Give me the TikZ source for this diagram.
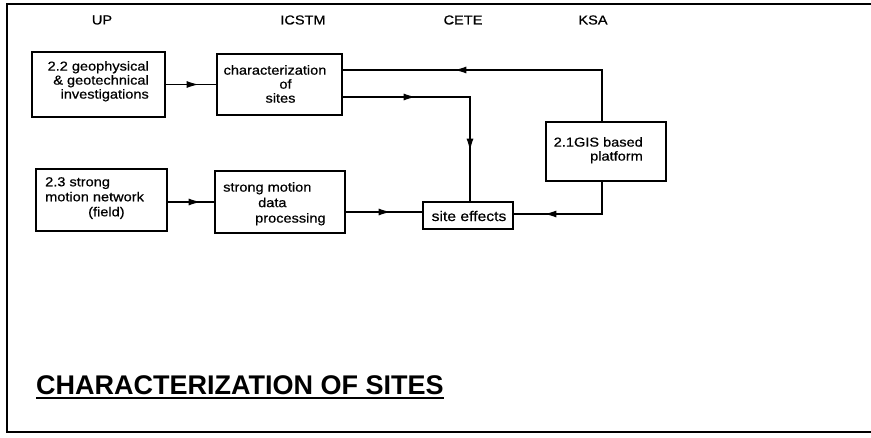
\documentclass[tikz,border=0pt]{standalone}
\usepackage{fontspec}
\setmainfont{Liberation Sans}
\newfontfamily\boxfont[FakeStretch=1.12,FakeBold=0.6]{Liberation Sans}
\usetikzlibrary{arrows.meta,decorations.markings}
\tikzset{
  x=1pt, y=1pt,
  >={Latex[length=12pt,width=7pt]},
  box/.style={draw, line width=1.2pt, inner sep=0pt, rectangle},
  lbl/.style={inner sep=0pt, font=\boxfont\fontsize{13}{14}\selectfont},
  hdr/.style={inner sep=0pt, font=\boxfont\fontsize{13}{14}\selectfont},
  flow/.style={line width=1.1pt},
  tipA/.style={postaction={decorate}, decoration={markings,
     mark=at position #1 with {\arrow{>}}}},
  tipB/.style 2 args={postaction={decorate}, decoration={markings,
     mark=at position #1 with {\arrow{>}},
     mark=at position #2 with {\arrow{>}}}}
}
\begin{document}
\begin{tikzpicture}
\useasboundingbox (0,0) rectangle (871,-437);
% frame
\draw[line width=1.5pt] (871,-4) -- (7,-4) -- (7,-432) -- (871,-432);

% header labels
\node[hdr] (hUP) at (102,-20) {UP};
\node[hdr] (hICSTM) at (303,-20) {ICSTM};
\node[hdr] (hCETE) at (463,-20) {CETE};
\node[hdr] (hKSA) at (593,-20) {KSA};

% boxes
\node[box, minimum width=133pt, minimum height=65pt] (b22) at (98.5,-84.5) {};
\node[box, minimum width=125pt, minimum height=61pt] (char) at (279.5,-84.5) {};
\node[box, minimum width=131pt, minimum height=62pt] (b23) at (101.5,-200) {};
\node[box, minimum width=130pt, minimum height=62pt] (strong) at (280,-202) {};
\node[box, minimum width=90pt, minimum height=27pt] (site) at (468,-215.5) {};
\node[box, minimum width=120pt, minimum height=59pt] (gis) at (606,-151.5) {};

% box texts
\node[lbl, align=right, anchor=north east] (t22) at (149,-61)
  {2.2 geophysical\\ \& geotechnical\\ investigations};
\node[lbl, align=center] (tchar) at (275,-84)
  {characterization\\ \hspace*{21pt}of\\ \hspace*{11pt}sites};
\node[lbl, align=left, anchor=north west, font=\boxfont\fontsize{13}{15}\selectfont] (t23) at (45,-177)
  {2.3 strong\\ motion network\\ \hspace*{43pt}(field)};
\node[lbl, align=left, anchor=north west, font=\boxfont\fontsize{13}{15.5}\selectfont] (tstrong) at (223,-182)
  {strong motion\\ \hspace*{35pt}data\\ \hspace*{32pt}processing};
\node[lbl, font=\boxfont\fontsize{14}{15}\selectfont] (tsite) at (469,-216) {site effects};
\node[lbl, align=right, anchor=north east] (tgis) at (643,-137)
  {2.1GIS based\\ platform};

% connectors
\draw[flow, tipA=33pt] (b22) -- (char);
\draw[flow, tipA=199pt] ([xshift=-4pt]gis.north) |- ([yshift=14.5pt]char.east);
\draw[flow, tipB={73pt}{181pt}] ([yshift=-12.5pt]char.east) -| ([xshift=2pt]site.north);
\draw[flow, tipA=33pt] (strong.west -| b23.east) -- (strong.west);
\draw[flow, tipA=45pt] ([yshift=-10pt]strong.east) -- ([yshift=-10pt]strong.east -| site.west);
\draw[flow, tipA=90pt] ([xshift=-4pt]gis.south) |- ([yshift=1.5pt]site.east);

% title
\node[inner sep=0pt, anchor=south west, font=\bfseries\fontsize{27}{30}\selectfont] (title) at (36,-395)
  {CHARACTERIZATION OF SITES};
\draw[line width=2.5pt] ([yshift=-3pt]title.south west) -- ([yshift=-3pt]title.south east);
\end{tikzpicture}
\end{document}
